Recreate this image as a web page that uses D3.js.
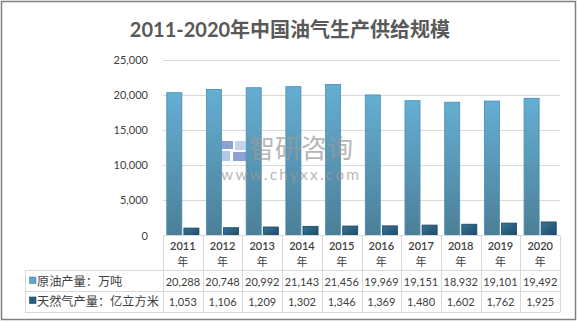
<!DOCTYPE html>
<html>
<head>
<meta charset="utf-8">
<script src="https://cdn.jsdelivr.net/npm/d3@7"></script>
<style>
  html, body { margin: 0; padding: 0; background: #fff; }
  svg { display: block; }
  text { font-family: "Lato", "Noto Sans CJK SC", sans-serif; }
</style>
</head>
<body>
<svg id="chart" width="579" height="323"></svg>
<script>
// Chart data
const years = ["2011", "2012", "2013", "2014", "2015", "2016", "2017", "2018", "2019", "2020"];
const oilOutput = [20288, 20748, 20992, 21143, 21456, 19969, 19151, 18932, 19101, 19492]; // 万吨
const gasOutput = [1053, 1106, 1209, 1302, 1346, 1369, 1480, 1602, 1762, 1925];           // 亿立方米
const seriesNames = ["原油产量：万吨", "天然气产量：亿立方米"];
const yTicks = [0, 5000, 10000, 15000, 20000, 25000];
const titleText = "2011-2020年中国油气生产供给规模";

const svg = d3.select("#chart");
const W = 579, H = 323;

const plot = { left: 163, right: 560, top: 59.5, bottom: 235.5 };
const tableLeft = 25;
const rowLines = [235.5, 270.5, 291.5, 312.5];

// gradients
const defs = svg.append("defs");
const gOil = defs.append("linearGradient").attr("id", "gOil").attr("x1", 0).attr("y1", 0).attr("x2", 0).attr("y2", 1);
gOil.append("stop").attr("offset", "0%").attr("stop-color", "#65aed3");
gOil.append("stop").attr("offset", "100%").attr("stop-color", "#4c7f97");
const gGas = defs.append("linearGradient").attr("id", "gGas").attr("x1", 0).attr("y1", 0).attr("x2", 1).attr("y2", 1);
gGas.append("stop").attr("offset", "0%").attr("stop-color", "#3c7597");
gGas.append("stop").attr("offset", "100%").attr("stop-color", "#1b4a68");

// outer frame
svg.append("rect").attr("x", 1.5).attr("y", 1.5).attr("width", W - 5).attr("height", H - 5)
  .attr("fill", "#fff").attr("stroke", "#808080").attr("stroke-width", 1.5);

// title
svg.append("text").attr("x", 290).attr("y", 36.5).attr("text-anchor", "middle")
  .attr("font-size", 20).attr("font-weight", "bold").attr("fill", "#595959").text(titleText);

// scales
const x = d3.scaleBand().domain(years).range([plot.left, plot.right]).paddingInner(0).paddingOuter(0);
const xs = d3.scaleBand().domain([0, 1]).range([0, x.bandwidth()]).paddingInner(0.12).paddingOuter(0.22);
const y = d3.scaleLinear().domain([0, 25000]).range([plot.bottom, plot.top]);

// gridlines
svg.append("g").selectAll("line").data(yTicks.filter(d => d > 0)).join("line")
  .attr("x1", plot.left).attr("x2", plot.right)
  .attr("y1", d => Math.round(y(d)) + 0.5).attr("y2", d => Math.round(y(d)) + 0.5)
  .attr("stroke", "#d9d9d9").attr("stroke-width", 1);

// y axis
const yAxis = d3.axisLeft(y).tickValues(yTicks).tickSize(0).tickPadding(0)
  .tickFormat(d3.format(","));
const ya = svg.append("g").attr("transform", `translate(148,0)`).call(yAxis);
ya.select(".domain").remove();
ya.selectAll("text").attr("font-size", 11).attr("fill", "#404040")
  .attr("font-family", "Lato, sans-serif");

// bars
const seriesData = [oilOutput, gasOutput];
const fills = ["url(#gOil)", "url(#gGas)"];
const strokes = ["#4a8db0", "#1b4660"];
seriesData.forEach((vals, si) => {
  svg.append("g").selectAll("rect").data(vals).join("rect")
    .attr("x", (d, i) => x(years[i]) + xs(si))
    .attr("width", xs.bandwidth())
    .attr("y", d => y(d))
    .attr("height", d => y(0) - y(d))
    .attr("fill", fills[si]).attr("stroke", strokes[si]).attr("stroke-width", 0.8);
});

// watermark, drawn over the bars
const wm = svg.append("g").attr("opacity", 0.7);
wm.append("rect").attr("x", 222).attr("y", 141).attr("width", 11).attr("height", 8).attr("fill", "#5b7bbf");
wm.append("rect").attr("x", 222).attr("y", 151).attr("width", 8).attr("height", 10).attr("fill", "#8fb0de");
wm.append("rect").attr("x", 235).attr("y", 141).attr("width", 11).attr("height", 9).attr("fill", "#a9c3e6");
wm.append("rect").attr("x", 233).attr("y", 152).attr("width", 13).attr("height", 9).attr("fill", "#5b7bbf");
wm.append("text").attr("x", 249).attr("y", 158).attr("font-size", 26)
  .attr("font-family", "Noto Sans CJK SC, sans-serif").attr("fill", "#9a9a9a").text("智研咨询");
wm.append("text").attr("x", 221).attr("y", 179.5).attr("font-size", 15.5).attr("letter-spacing", 2.2)
  .attr("font-family", "DejaVu Sans, sans-serif").attr("fill", "#9a9a9a").text("www.chyxx.com");

// data table grid
const grid = svg.append("g").attr("stroke", "#d9d9d9").attr("stroke-width", 1);
grid.append("line").attr("x1", plot.left).attr("x2", plot.right).attr("y1", rowLines[0]).attr("y2", rowLines[0]);
rowLines.slice(1).forEach(yy => {
  grid.append("line").attr("x1", tableLeft).attr("x2", plot.right).attr("y1", yy).attr("y2", yy);
});
grid.append("line").attr("x1", tableLeft + 0.5).attr("x2", tableLeft + 0.5).attr("y1", rowLines[1]).attr("y2", rowLines[3]);
years.forEach(yr => {
  const xx = Math.round(x(yr)) + 0.5;
  grid.append("line").attr("x1", xx).attr("x2", xx).attr("y1", rowLines[0]).attr("y2", rowLines[3]);
});
grid.append("line").attr("x1", plot.right + 0.5).attr("x2", plot.right + 0.5).attr("y1", rowLines[0]).attr("y2", rowLines[3]);

// year headers
const hdr = svg.append("g").attr("fill", "#404040").attr("text-anchor", "middle");
years.forEach(yr => {
  const cx = x(yr) + x.bandwidth() / 2;
  hdr.append("text").attr("x", cx).attr("y", 249.5).attr("font-size", 11).attr("font-weight", 600).text(yr);
  hdr.append("text").attr("x", cx).attr("y", 265.5).attr("font-size", 11).text("年");
});

// values rows
const fmt = d3.format(",");
const rowBase = [285.5, 305.5];
seriesData.forEach((vals, si) => {
  svg.append("g").attr("fill", "#404040").attr("text-anchor", "middle")
    .selectAll("text").data(vals).join("text")
    .attr("x", (d, i) => x(years[i]) + x.bandwidth() / 2)
    .attr("y", rowBase[si])
    .attr("font-size", 11)
    .text(d => fmt(d));
});

// legend keys in table
const keyFill = ["#5fa5c8", "#2a5f80"];
const keyStroke = ["#4a8db0", "#1b4660"];
seriesNames.forEach((name, si) => {
  svg.append("rect").attr("x", 29.5).attr("y", rowBase[si] - 8.5).attr("width", 6.5).attr("height", 6.5)
    .attr("fill", keyFill[si]).attr("stroke", keyStroke[si]).attr("stroke-width", 0.6);
  svg.append("text").attr("x", 37).attr("y", rowBase[si] + 0.5).attr("font-size", 12.2)
    .attr("font-family", "Noto Sans CJK SC, sans-serif").attr("fill", "#404040").text(name);
});
</script>
</body>
</html>
